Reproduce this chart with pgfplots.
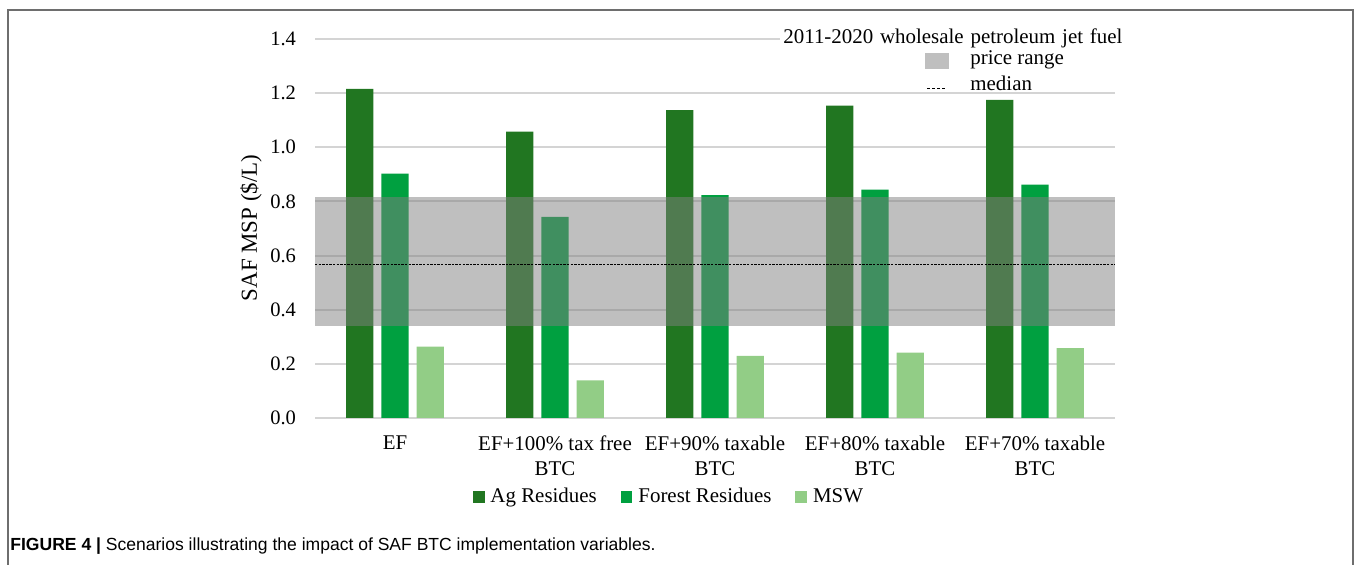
\documentclass[border=0pt]{standalone}
\usepackage{fontspec}
\setmainfont{Liberation Serif}
\newfontfamily\capfont{Liberation Sans}
\usepackage{pgfplots}
\pgfplotsset{compat=1.18}

\definecolor{agres}{RGB}{33,118,33}
\definecolor{forres}{RGB}{0,160,64}
\definecolor{msw}{RGB}{146,205,134}
\definecolor{framegray}{RGB}{110,110,110}

\pgfplotsset{
  sqleg/.style={legend image code/.code={\fill[##1] (0bp,-2.9bp) rectangle (5.8bp,2.9bp);}},
}

% positions below are given as reference pixels (x right, y down), page height 565
\begin{document}
\begin{tikzpicture}[x=0.5bp,y=0.5bp]
\useasboundingbox (0,0) rectangle (1356,565);
% figure frame, open at the bottom
\draw[line width=1bp, framegray] (8,0) -- (8,565-10) -- (1353,565-10) -- (1353,0);

\begin{axis}[
    at={(157.5bp,73.5bp)}, anchor=south west,
    scale only axis,
    width=400bp, height=189.5bp,
    xmin=-0.5, xmax=4.5,
    ymin=0, ymax=1.4,
    ytick={0,0.2,0.4,0.6,0.8,1.0,1.2,1.4},
    /pgf/number format/fixed,
    /pgf/number format/fixed zerofill,
    /pgf/number format/precision=1,
    /pgf/number format/assume math mode=true,
    yticklabel style={font=\fontsize{10.3}{12}\selectfont, xshift=-6bp},
    xtick={0,1,2,3,4},
    xticklabels={EF, {EF+100\% tax free\\BTC}, {EF+90\% taxable\\BTC}, {EF+80\% taxable\\BTC}, {EF+70\% taxable\\BTC}},
    xticklabel style={align=center, font=\fontsize{10.5}{12.5}\selectfont, yshift=-5.5bp},
    major tick length=0pt,
    axis line style={draw=none},
    ymajorgrids,
    grid style={draw=black!17, line width=1bp},
    legend style={
        at={(axis description cs:0.4437,-0.2085)}, anchor=center,
        draw=none, fill=none,
        legend columns=3,
        font=\fontsize{10.5}{12.5}\selectfont,
        /tikz/every even column/.append style={column sep=10bp},
        /tikz/every odd column/.append style={column sep=1bp},
    },
    clip=false,
]

\addplot[ybar, fill=agres, draw=none, bar width=0.17, bar shift=-0.22, sqleg]
    coordinates {(0,1.216) (1,1.058) (2,1.137) (3,1.154) (4,1.175)};
\addlegendentry{Ag Residues}
\addplot[ybar, fill=forres, draw=none, bar width=0.17, bar shift=0, sqleg]
    coordinates {(0,0.903) (1,0.743) (2,0.823) (3,0.844) (4,0.862)};
\addlegendentry{Forest Residues}
\addplot[ybar, fill=msw, draw=none, bar width=0.17, bar shift=0.22, sqleg]
    coordinates {(0,0.264) (1,0.139) (2,0.229) (3,0.241) (4,0.258)};
\addlegendentry{MSW}

% 2011-2020 wholesale jet fuel price range and median
\addplot[forget plot, draw=none, fill=black!50, fill opacity=0.5]
    coordinates {(-0.5,0.34) (4.5,0.34) (4.5,0.815) (-0.5,0.815)} -- cycle;
\addplot[forget plot, black, line width=0.6bp, dash pattern=on 1.2bp off 0.6bp]
    coordinates {(-0.5,0.568) (4.5,0.568)};
\end{axis}

% text box with the price range key
\fill[white] (780,565-26) rectangle (1130,565-90);
\node[anchor=west, inner sep=0pt, font=\fontsize{10.5}{12.5}\selectfont] at (783,565-38)
    {\makebox[169.5bp][s]{2011-2020 wholesale petroleum jet fuel}};
\fill[black!25] (925,565-53) rectangle (949,565-69);
\node[anchor=west, inner sep=0pt, font=\fontsize{10.5}{12.5}\selectfont] at (970,565-60) {price range};
\draw[black, line width=0.5bp, dash pattern=on 1.5bp off 1bp] (927,565-89) -- (947,565-89);
\node[anchor=west, inner sep=0pt, font=\fontsize{10.5}{12.5}\selectfont] at (970,565-83) {median};

% y axis title
\node[rotate=90, font=\fontsize{11.5}{13}\selectfont] at (251,565-228) {SAF MSP (\$/L)};

% caption
\node[anchor=base west, inner sep=0pt, font=\capfont\fontsize{8.8}{10}\selectfont] at (10,565-551)
    {\textbf{FIGURE 4 |} Scenarios illustrating the impact of SAF BTC implementation variables.};
\end{tikzpicture}
\end{document}
